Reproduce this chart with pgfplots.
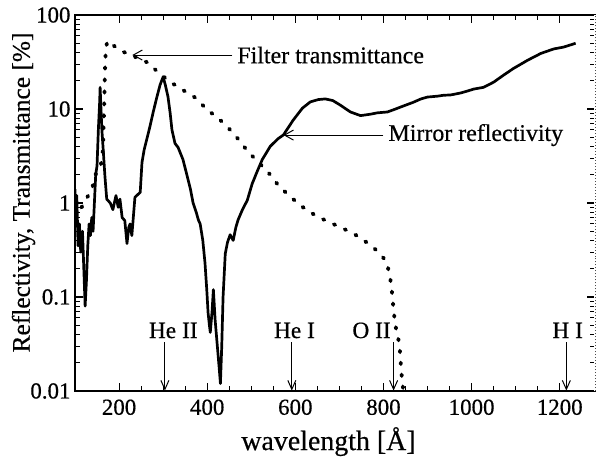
\documentclass[border=0pt]{standalone}
\usepackage{fontspec}
\setmainfont{Liberation Serif}[FakeBold=0.5]
\usepackage{pgfplots}
\pgfplotsset{compat=1.18}
\usetikzlibrary{arrows.meta}

% Filter transmittance [%] vs wavelength [A]
\pgfplotstableread{
lam   T
100   0.7
115   0.9
130   1.2
140   1.5
148   2.1
158   2.5
162   3.0
164   4.5
166   10
168   25
170   45
174   53
202   42
230   37
266   31
289   24.5
316   19.4
345   15.9
373   13.2
400   9.8
425   8.0
448   6.3
470   4.8
493   3.5
520   2.6
543   2.0
561   1.55
589   1.16
616   0.91
645   0.74
675   0.63
707   0.54
736   0.46
766   0.37
789   0.30
803   0.25
809   0.22
816   0.15
820   0.105
823   0.072
827   0.050
834   0.035
838   0.025
840   0.017
843   0.012
845   0.0102
}\filter

% Mirror reflectivity [%] vs wavelength [A]
\pgfplotstableread{
lam   R
100   1.4
102   0.6
104   1.2
107   0.35
110   0.6
113   0.3
117   0.5
120   0.2
123   0.08
126   0.15
129   0.35
132   0.6
135   0.45
138   0.7
141   0.5
144   1.0
147   2.0
150   2.5
153   6
156   12
157   17
159   10
161   6
164   3.7
168   1.9
172   1.1
180   1.0
186   0.85
193   1.2
198   0.9
202   1.1
207   0.7
213   0.65
218   0.37
222   0.55
225   0.6
229   0.45
236   1.15
248   1.3
252   2.7
257   3.7
264   5
270   6.5
278   9.5
286   13.5
293   18
300   22
305   18
311   13.5
316   9
320   6
327   4.3
334   3.9
345   2.9
355   1.9
362   1.4
368   1.0
375   0.8
380   0.66
384   0.6
390   0.4
395   0.23
399   0.12
402   0.068
405   0.05
407   0.042
411   0.07
414   0.12
418   0.057
423   0.03
427   0.018
430   0.012
433   0.03
436   0.1
441   0.29
446   0.38
452   0.46
459   0.40
465   0.55
470   0.66
480   0.85
491   1.07
502   1.6
514   2.2
525   2.9
543   4.0
560   4.8
573   5.3
595   7.6
616   10.2
634   11.9
652   12.6
668   12.8
685   12.3
702   11.0
715   10
725   9.3
748   8.5
770   8.8
786   9.1
809   9.3
825   9.9
839   10.5
855   11.2
868   11.8
885   12.8
900   13.4
923   13.7
936   14
952   14.1
975   14.8
990   15.5
1005  16.3
1027  17
1050  19.3
1073  23
1095  27
1127  33
1157  39
1186  43.5
1209  45.6
1236  50
}\mirror

\tikzset{
  linearrow/.style={-{Straight Barb[length=9bp,width=8bp]}, line width=1pt},
  linelabel/.style={anchor=base, font=\fontsize{23.5}{26}\selectfont, inner sep=0pt},
  curvelabel/.style={anchor=west, font=\fontsize{24}{27}\selectfont, inner sep=0pt},
}

\begin{document}
\begin{tikzpicture}
\useasboundingbox (-75bp,-68bp) rectangle (522bp,391bp);
\begin{axis}[
  name=ax,
  at={(0,0)}, anchor=south west,
  scale only axis, width=520bp, height=376bp,
  xmin=100, xmax=1280, ymin=0.01, ymax=100,
  ymode=log,
  xtick={200,400,600,800,1000,1200},
  xticklabels={200,400,600,800,1000,1200},
  minor x tick num=3,
  ytick={0.01,0.1,1,10,100},
  yticklabels={0.01,0.1,1,10,100},
  /pgf/number format/assume math mode=true,
  tick align=inside,
  major tick length=8bp, minor tick length=5bp,
  every tick/.style={black, line width=1.1pt},
  axis line style={line width=1.5pt},
  tick label style={font=\fontsize{23}{26}\selectfont},
  xticklabel style={yshift=-5bp},
  yticklabel style={xshift=-1bp},
  xlabel={wavelength [Å]},
  ylabel={Reflectivity, Transmittance [\%]},
  xlabel style={font=\fontsize{28}{32}\selectfont,
    at={(axis description cs:0.4875,-0.157)}, anchor=base},
  ylabel style={font=\fontsize{25.5}{29}\selectfont,
    at={(axis description cs:-0.099,0.528)}, anchor=center},
  clip=true,
]
\addplot[black, line width=2.7pt, line join=round] table[x=lam, y=R] {\mirror};
\addplot[black, line width=3.8pt, line cap=round, dash pattern=on 1.5pt off 10.5pt] table[x=lam, y=T] {\filter};

% curve annotations
\draw[-{Straight Barb[length=9bp,width=10bp]}, line width=1pt] (axis cs:457,37.5) -- (axis cs:230,37.5);
\node[curvelabel] at (axis cs:468,37.5) {Filter transmittance};
\draw[-{Straight Barb[length=9bp,width=10bp]}, line width=1pt] (axis cs:800,5.28) -- (axis cs:573,5.28);
\node[curvelabel] at (axis cs:811,5.28) {Mirror reflectivity};

% emission line markers
\draw[linearrow] (axis cs:304,0.033) -- (axis cs:304,0.0101);
\node[linelabel] at (axis cs:323,0.0366) {He II};
\draw[linearrow] (axis cs:592,0.033) -- (axis cs:592,0.0101);
\node[linelabel] at (axis cs:598,0.0366) {He I};
\draw[linearrow] (axis cs:823,0.033) -- (axis cs:823,0.0101);
\node[linelabel] at (axis cs:773,0.0366) {O II};
\draw[linearrow] (axis cs:1215,0.033) -- (axis cs:1215,0.0101);
\node[linelabel] at (axis cs:1218,0.0366) {H I};
\end{axis}
% faint right frame
\draw[white, line width=1.6pt] (ax.south east) -- (ax.north east);
\draw[black!70, line width=0.8pt, dash pattern=on 1pt off 2pt] (ax.south east) -- (ax.north east);
\end{tikzpicture}
\end{document}
